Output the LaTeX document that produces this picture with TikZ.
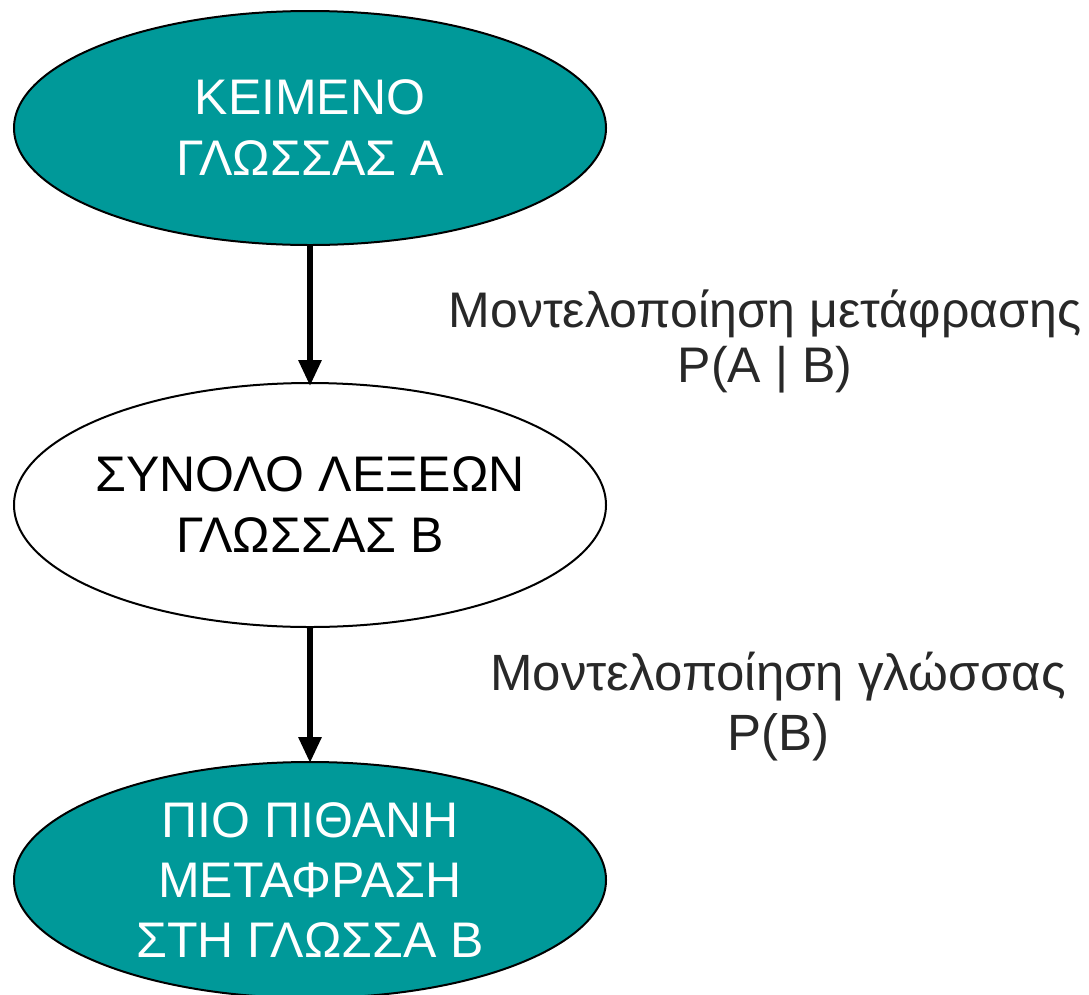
\documentclass[tikz,border=0pt]{standalone}
\usepackage{fontspec}
\setmainfont{Liberation Sans}
\usetikzlibrary{shapes.geometric,arrows.meta}
\definecolor{teal1}{RGB}{0,153,153}
\definecolor{txtgray}{RGB}{40,40,40}
\begin{document}
\begin{tikzpicture}[x=1pt,y=-1pt,
  ell/.style={ellipse,draw=black,line width=2pt,inner sep=0pt,minimum width=592pt,align=center,font=\fontsize{50}{61}\selectfont},
  fillell/.style={ell,fill=teal1,text=white},
  plainell/.style={ell,fill=white,text=black},
  conn/.style={line width=6pt,-{Triangle[width=22pt,length=26pt]}},
  lbl/.style={align=center,text=txtgray,inner sep=0pt}]
\useasboundingbox (0,0) rectangle (1089,994);
\node[fillell,minimum height=234pt] (a) at (310,128) {ΚΕΙΜΕΝΟ\\ΓΛΩΣΣΑΣ Α};
\node[plainell,minimum height=244pt,inner xsep=-20pt] (b) at (310,505) {ΣΥΝΟΛΟ ΛΕΞΕΩΝ\\ΓΛΩΣΣΑΣ Β};
\node[fillell,minimum height=236pt,font=\fontsize{50}{60}\selectfont] (c) at (310,880) {ΠΙΟ ΠΙΘΑΝΗ\\ΜΕΤΑΦΡΑΣΗ\\ΣΤΗ ΓΛΩΣΣΑ Β};
\draw[conn] (a.south) -- ([yshift=-4pt]b.north);
\draw[conn] (b.south) -- ([yshift=-2pt]c.north);
\node[lbl,font=\fontsize{50}{55}\selectfont] (l1) at (765,341) {Μοντελοποίηση μετάφρασης\\P(A | B)};
\node[lbl,font=\fontsize{51}{60}\selectfont] (l2) at (778,707) {Μοντελοποίηση γλώσσας\\P(B)};
\end{tikzpicture}
\end{document}
